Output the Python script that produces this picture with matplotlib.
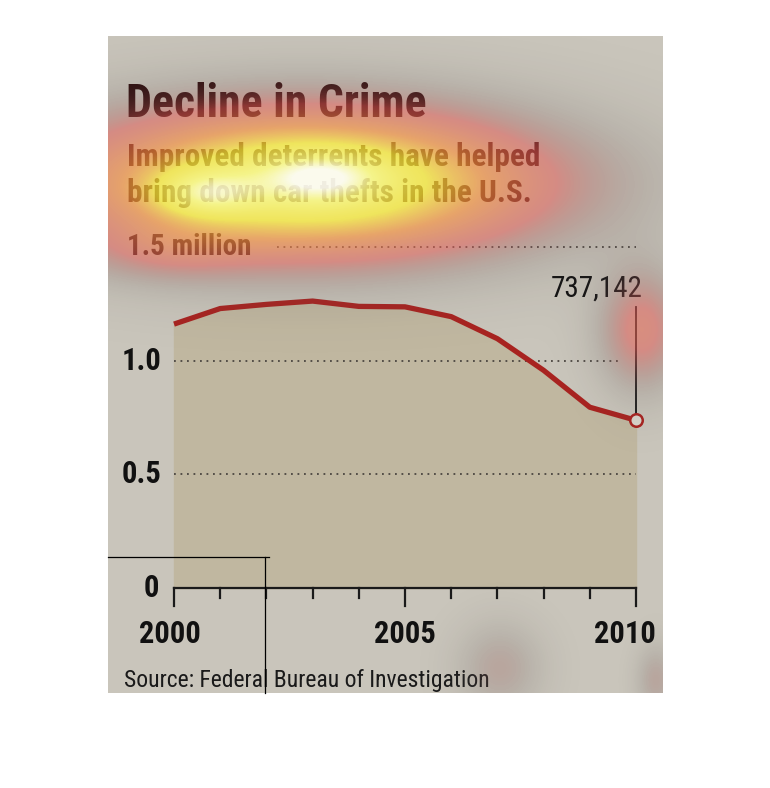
import numpy as np
import matplotlib
matplotlib.use('Agg')
import matplotlib.pyplot as plt
from matplotlib import font_manager
from matplotlib.colors import LinearSegmentedColormap

# FBI motor vehicle thefts, millions
years = [2000, 2001, 2002, 2003, 2004, 2005, 2006, 2007, 2008, 2009, 2010]
thefts = [1.160002, 1.228391, 1.246646, 1.261226, 1.237851, 1.235859,
          1.192809, 1.095769, 0.956846, 0.794616, 0.737142]
y_ticks = [0.5, 1.0]
y_tick_labels = ['0.5', '1.0']
x_labels = ['2000', '2005', '2010']
x_label_years = [2000, 2005, 2010]
last_label = '737,142'

title = 'Decline in Crime'
subtitle = 'Improved deterrents have helped\nbring down car thefts in the U.S.'
source = 'Source: Federal Bureau of Investigation'

# eye-tracking blobs over the picture: cx, cy, sx, sy, weight (pixels)
blobs = [
    (305, 183, 165, 52, 0.80),
    (322, 177, 40, 16, 0.26),
    (206, 193, 34, 15, 0.28),
    (165, 252, 55, 20, 0.10),
    (642, 330, 30, 42, 0.28),
    (500, 668, 30, 32, 0.14),
    (656, 680, 14, 25, 0.14),
]

W, H = 770, 788
PL, PT, PR, PB = 108, 36, 663, 693
# pixel -> data mapping
X0_PX, PX_YEAR = 174, 46.2
Y0_PX, PX_UNIT = 588, 227.5

def dx(px):
    return 2000 + (px - X0_PX) / PX_YEAR

def dy(py):
    return (Y0_PX - py) / PX_UNIT

have = set(f.name for f in font_manager.fontManager.ttflist)
narrow = [n for n in ['Roboto Condensed', 'Fira Sans Condensed', 'PT Sans Narrow',
                      'Archivo Narrow', 'Liberation Sans Narrow'] if n in have]
plt.rcParams['font.family'] = narrow[:1] + ['DejaVu Sans']

fig = plt.figure(figsize=(W / 100, H / 100), dpi=100)
fig.patch.set_facecolor('white')

ax = fig.add_axes([PL / W, 1 - PB / H, (PR - PL) / W, (PB - PT) / H])
ax.set_facecolor('#c9c5bb')
ax.set_xlim(dx(PL), dx(PR))
ax.set_ylim(dy(PB), dy(PT))
for s in ax.spines.values():
    s.set_visible(False)
ax.set_xticks([])
ax.set_yticks([])

ax.fill_between(years, thefts, 0, color='#c0b7a0', zorder=1)

# dotted grid
dot = dict(color='#4a4540', lw=1.3, linestyle=(0, (1, 2.6)), zorder=2)
ax.plot([2000, dx(621)], [1.0, 1.0], **dot)
ax.plot([2000, 2010], [0.5, 0.5], **dot)
ax.plot([dx(277), 2010], [1.5, 1.5], **dot)

ax.plot(years, thefts, color='#a82320', lw=3.8, solid_capstyle='butt',
        solid_joinstyle='round', zorder=4)

# annotation for the last point
ax.plot([years[-1], years[-1]], [dy(307), thefts[-1] + 0.025], color='#111111', lw=1.3, zorder=3)
ax.plot(years[-1], thefts[-1], 'o', ms=9, mfc='#d9d5cc', mec='#a82320', mew=1.8, zorder=5)
ax.text(dx(643), dy(289), last_label, ha='right', va='center', fontsize=21, color='#111111')

# x axis
ax.plot([2000, 2010], [0, 0], color='#1a1a1a', lw=1.6, zorder=3)
for yr in years:
    ln = 18 if yr in x_label_years else 10
    ax.plot([yr, yr], [0, -ln / PX_UNIT], color='#1a1a1a', lw=1.6, zorder=3)
label_shift = {2000: -0.09, 2005: 0.0, 2010: -0.24}
for yr, lab in zip(x_label_years, x_labels):
    ax.text(yr + label_shift[yr], dy(634), lab, ha='center', va='center',
            fontsize=22, fontweight='bold', color='#111111')

# y labels
for v, lab in zip(y_ticks, y_tick_labels):
    ax.text(dx(162), v, lab, ha='right', va='center', fontsize=22,
            fontweight='bold', color='#111111')
ax.text(dx(159), 0.0, '0', ha='right', va='center', fontsize=22,
        fontweight='bold', color='#111111')
ax.text(dx(127), 1.5, '1.5 million', ha='left', va='center', fontsize=21,
        fontweight='bold', color='#2a1212')

ax.text(dx(126), dy(104), title, ha='left', va='center', fontsize=33,
        fontweight='bold', color='#2a0a0a')
ax.text(dx(127), dy(175), subtitle, ha='left', va='center', fontsize=22.5,
        fontweight='bold', color='#3a0c0c', linespacing=1.25)
ax.text(dx(124), dy(681), source, ha='left', va='center', fontsize=17,
        color='#1a1a1a')

# heatmap overlay
hm = fig.add_axes([0, 0, 1, 1], zorder=5)
hm.set_xlim(0, W)
hm.set_ylim(H, 0)
hm.axis('off')
hm.patch.set_alpha(0)
xs = np.arange(PL, PR) + 0.5
ys = np.arange(PT, PB) + 0.5
X, Y = np.meshgrid(xs, ys)
I = np.zeros_like(X)
for cx, cy, sx, sy, w in blobs:
    I += w * np.exp(-((X - cx) ** 2 / (2 * sx ** 2) + (Y - cy) ** 2 / (2 * sy ** 2)))
I = np.clip(I, 0, 1)
cmap = LinearSegmentedColormap.from_list('heat', [
    (0.0, (0.35, 0.32, 0.32, 0.0)),
    (0.08, (0.40, 0.34, 0.34, 0.15)),
    (0.25, (0.88, 0.36, 0.34, 0.55)),
    (0.45, (0.97, 0.58, 0.25, 0.66)),
    (0.62, (1.0, 0.95, 0.22, 0.72)),
    (0.85, (1.0, 1.0, 0.50, 0.82)),
    (1.0, (1.0, 1.0, 0.95, 0.93)),
])
hm.imshow(I, cmap=cmap, vmin=0, vmax=1, extent=[PL, PR, PB, PT],
          interpolation='bilinear', aspect='auto')

# stray crop lines in the reference
hm.plot([PL, 269], [557, 557], color='black', lw=0.9)
hm.plot([265, 265], [557, PB], color='black', lw=0.9)

fig.savefig('out.png', dpi=100, facecolor='white')
